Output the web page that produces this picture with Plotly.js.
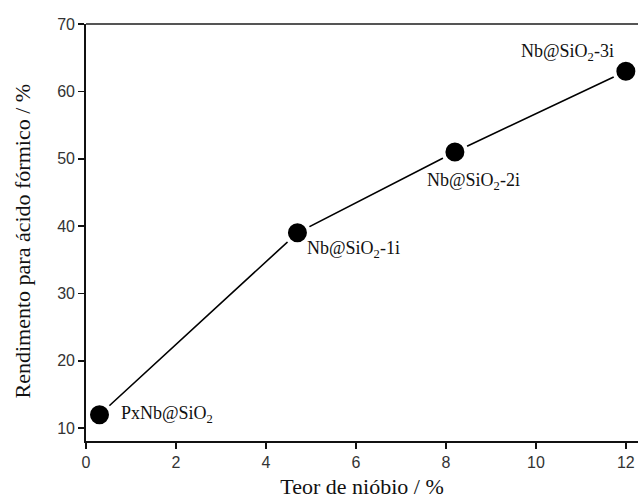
<!DOCTYPE html>
<html>
<head>
<meta charset="utf-8">
<script src="https://cdn.plot.ly/plotly-3.0.1.min.js"></script>
<style>
  html, body { margin: 0; padding: 0; background: #fff; }
  #chart { width: 638px; height: 502px; }
</style>
</head>
<body>
<div id="chart"></div>
<script>
// Niobium content (%) vs formic acid yield (%) for each catalyst
const niobiumContent = [0.3, 4.7, 8.2, 12];
const formicYield = [12, 39, 51, 63];
const sampleNames = ['PxNb@SiO<sub>2</sub>', 'Nb@SiO<sub>2</sub>-1i', 'Nb@SiO<sub>2</sub>-2i', 'Nb@SiO<sub>2</sub>-3i'];
const xTicks = [0, 2, 4, 6, 8, 10, 12];
const yTicks = [10, 20, 30, 40, 50, 60, 70];
const xTitle = 'Teor de nióbio / %';
const yTitle = 'Rendimento para ácido fórmico / %';

// label placement around each point: [xanchor, yanchor, xshift, yshift]
const labelPlacement = [
  ['left', 'middle', 19, 0],
  ['left', 'middle', 8, -17],
  ['center', 'middle', 19, -29],
  ['right', 'middle', -10, 19]
];

const serif = 'Liberation Serif';

const trace = {
  x: niobiumContent,
  y: formicYield,
  type: 'scatter',
  mode: 'lines+markers',
  line: { color: '#000', width: 1.6 },
  marker: { color: '#000', size: 23, line: { color: '#fff', width: 4 } },
  cliponaxis: false,
  hoverinfo: 'skip'
};

const annotations = sampleNames.map((name, i) => ({
  x: niobiumContent[i],
  y: formicYield[i],
  xref: 'x', yref: 'y',
  text: name,
  showarrow: false,
  xanchor: labelPlacement[i][0],
  yanchor: labelPlacement[i][1],
  xshift: labelPlacement[i][2],
  yshift: labelPlacement[i][3],
  font: { family: serif, size: 18, color: '#111' }
}));

// vertical axis title, drawn as a rotated annotation beside the y axis
annotations.push({
  xref: 'paper', yref: 'paper',
  x: 0, y: 0.5,
  xanchor: 'center', yanchor: 'middle',
  xshift: -64, yshift: -9,
  textangle: -90,
  text: yTitle,
  showarrow: false,
  font: { family: serif, size: 22, color: '#111' }
});

const axisCommon = {
  showgrid: false,
  zeroline: false,
  showline: true,
  linecolor: '#111',
  linewidth: 1.8,
  ticks: 'outside',
  ticklen: 6,
  tickwidth: 1.6,
  tickcolor: '#111',
  tickfont: { family: 'Liberation Sans', size: 16, color: '#333' }
};

const layout = {
  width: 638,
  height: 502,
  margin: { l: 86, r: 0, t: 24, b: 61 },
  paper_bgcolor: '#fff',
  plot_bgcolor: '#fff',
  showlegend: false,
  xaxis: Object.assign({}, axisCommon, {
    range: [0, 12.27],
    tickvals: xTicks,
    ticktext: xTicks.map(String),
    title: { text: xTitle, standoff: 8, font: { family: serif, size: 22, color: '#111' } }
  }),
  yaxis: Object.assign({}, axisCommon, {
    range: [8.1, 70],
    tickvals: yTicks,
    ticktext: yTicks.map(String)
  }),
  shapes: [{
    type: 'line', xref: 'paper', yref: 'paper',
    x0: 0, x1: 1, y0: 1, y1: 1,
    line: { color: '#555', width: 2 }
  }],
  annotations: annotations
};

Plotly.newPlot('chart', [trace], layout, { displayModeBar: false, staticPlot: true });
</script>
</body>
</html>
